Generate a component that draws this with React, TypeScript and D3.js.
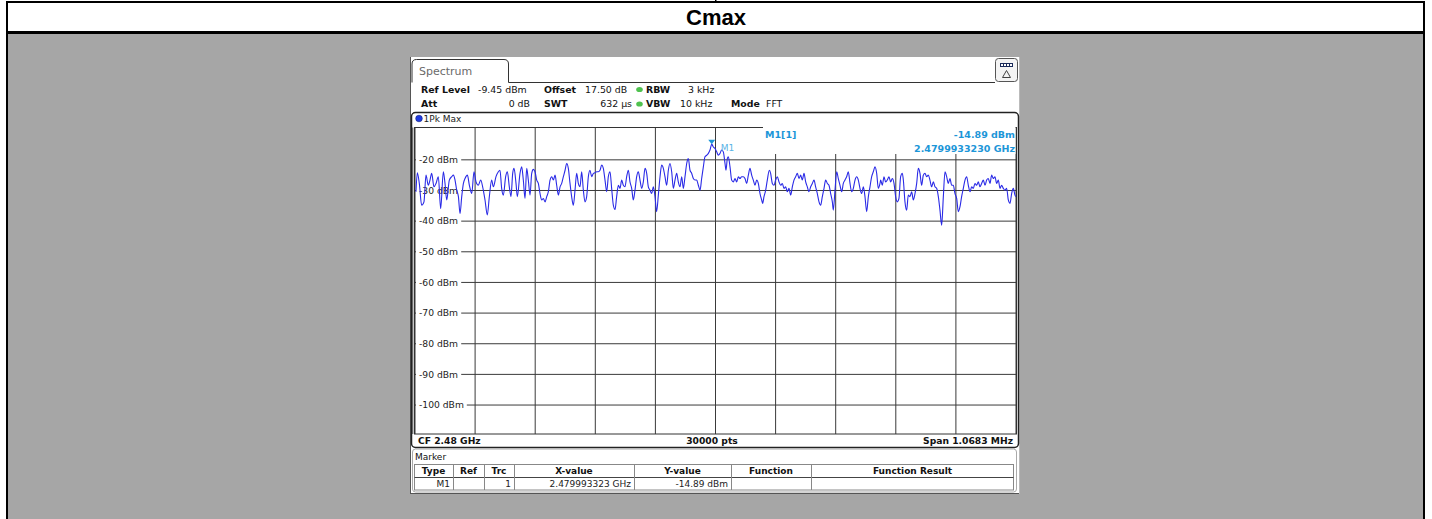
import React from "react";
import * as d3 from "d3";

// ---------- data ----------
const titleText = "Cmax";
const centerFreqLabel = "CF 2.48 GHz";
const pointsLabel = "30000 pts";
const spanLabel = "Span 1.0683 MHz";
const spanKHz = 1068.3;
const refLevel = -9.45;
const dbPerDiv = 10;
const yTickValues = [-20, -30, -40, -50, -60, -70, -80, -90, -100];

const headerRow1 = ["Ref Level", "-9.45 dBm", "Offset", "17.50 dB", "RBW", "3 kHz"];
const headerRow2 = ["Att", "0 dB", "SWT", "632 µs", "VBW", "10 kHz", "Mode", "FFT"];
const traceName = "1Pk Max";
const tabName = "Spectrum";

const markerName = "M1";
const markerInfoName = "M1[1]";
const markerFreqKHz = -6.677;
const markerLevel = -14.89;
const markerLevelText = "-14.89 dBm";
const markerFreqText = "2.4799933230 GHz";

const tableHeaders = ["Type", "Ref", "Trc", "X-value", "Y-value", "Function", "Function Result"];
const tableRow = ["M1", "", "1", "2.479993323 GHz", "-14.89 dBm", "", ""];

// trace: frequency offset from CF (kHz) and level (dBm)
const traceFreqKHz = [
  -532.4, -530.0, -526.5, -522.3, -518.2, -514.6, -510.5, -507.5, -504.5, -500.4,
  -496.8, -492.7, -488.5, -483.8, -480.8, -477.8, -473.1, -468.9, -465.9, -463.0,
  -460.0, -457.0, -454.1, -451.1, -448.1, -445.2, -441.0, -437.5, -433.3, -429.3,
  -425.7, -421.6, -417.4, -413.9, -409.7, -405.6, -402.0, -397.9, -394.9, -390.2,
  -386.0, -383.1, -380.1, -377.1, -373.0, -370.0, -366.5, -363.5, -360.5, -358.1,
  -354.6, -352.2, -347.5, -344.5, -341.6, -338.6, -335.6, -332.7, -329.7, -326.7,
  -323.8, -320.8, -317.8, -314.9, -311.9, -308.9, -306.0, -303.0, -300.0, -297.1,
  -294.1, -291.1, -288.2, -285.2, -282.3, -279.3, -276.3, -273.4, -270.4, -267.4,
  -264.5, -261.6, -258.6, -255.7, -252.7, -249.7, -246.8, -243.8, -240.8, -237.9,
  -234.9, -232.0, -229.0, -226.0, -223.1, -220.1, -217.1, -214.2, -211.2, -208.3,
  -205.3, -202.3, -199.4, -196.4, -193.4, -190.5, -187.5, -184.6, -181.6, -178.6,
  -175.7, -172.7, -169.7, -166.8, -163.8, -160.9, -157.9, -154.9, -152.0, -149.0,
  -146.1, -143.1, -140.1, -137.2, -134.2, -131.2, -128.3, -125.3, -122.3, -119.4,
  -116.4, -113.5, -110.5, -107.5, -104.6, -101.6, -98.6, -95.7, -92.7, -89.8,
  -86.8, -83.8, -80.9, -77.9, -74.9, -72.0, -69.0, -66.1, -63.1, -60.1,
  -57.2, -54.2, -51.2, -48.3, -45.3, -42.4, -39.4, -36.4, -33.5, -30.5,
  -27.5, -24.6, -21.6, -18.7, -15.7, -12.7, -9.8, -6.677, -3.8, -0.9,
  2.1, 5.05, 7.99, 10.95, 13.9, 16.9, 18.7, 21.0, 22.8, 25.8,
  28.7, 31.7, 34.7, 37.6, 40.6, 43.5, 46.5, 49.5, 52.4, 55.4,
  58.4, 61.3, 64.3, 67.2, 70.2, 73.2, 76.1, 79.1, 82.1, 83.8,
  86.2, 89.2, 92.1, 95.7, 98.0, 101.0, 104.0, 106.9, 109.9, 112.9,
  115.8, 118.8, 121.7, 124.7, 127.7, 130.6, 133.6, 136.6, 139.5, 142.5,
  145.5, 148.4, 151.4, 154.3, 157.3, 160.3, 163.2, 166.2, 169.2, 172.1,
  175.1, 178.0, 181.0, 184.0, 186.9, 189.9, 192.9, 195.8, 198.8, 201.7,
  204.7, 207.7, 209.4, 212.4, 215.4, 218.3, 221.3, 224.3, 227.2, 230.2,
  233.1, 236.1, 239.1, 242.0, 245.0, 248.0, 250.9, 253.9, 256.8, 259.8,
  262.8, 265.7, 268.7, 271.7, 274.6, 277.6, 280.5, 283.5, 286.5, 289.4,
  292.4, 293.6, 296.5, 299.5, 302.4, 305.4, 308.4, 311.3, 314.3, 317.3,
  320.2, 323.2, 326.1, 329.1, 332.1, 333.9, 336.8, 339.8, 342.7, 345.7,
  348.7, 351.6, 354.6, 357.6, 360.5, 363.5, 366.4, 369.4, 372.4, 375.3,
  378.3, 381.2, 384.2, 387.2, 390.1, 393.1, 396.1, 399.0, 402.0, 405.0,
  407.9, 410.9, 413.8, 416.8, 419.8, 422.7, 425.7, 428.7, 431.6, 434.6,
  437.5, 440.5, 443.5, 446.4, 449.4, 452.4, 455.3, 458.3, 461.2, 464.2,
  467.2, 470.1, 473.1, 476.1, 479.0, 482.0, 484.9, 487.9, 490.9, 493.8,
  496.8, 499.8, 502.7, 505.7, 508.6, 511.6, 514.6, 517.5, 520.5, 523.5,
  526.4, 529.4, 532.3, 534.1,
];
const traceLevelDbm = [
  -30.4, -24.2, -27.7, -34.8, -33.7, -25.0, -28.3, -26.6, -24.4, -28.8,
  -27.7, -25.5, -35.9, -23.9, -27.7, -33.1, -26.6, -25.5, -25.0, -26.6,
  -29.9, -32.0, -37.5, -32.0, -27.7, -26.1, -25.0, -28.3, -31.0, -23.9,
  -27.2, -28.3, -26.6, -28.8, -33.1, -38.0, -32.0, -26.6, -28.8, -25.5,
  -23.9, -23.4, -29.3, -31.5, -25.5, -23.9, -28.8, -32.0, -24.4, -22.8,
  -27.7, -32.0, -24.4, -22.3, -26.6, -32.6, -22.8, -26.6, -31.5, -24.4,
  -23.1, -23.9, -26.6, -27.7, -31.0, -33.1, -32.6, -33.7, -32.0, -30.4,
  -26.6, -25.5, -26.6, -25.0, -28.3, -31.5, -28.8, -27.7, -25.5, -23.4,
  -21.2, -22.8, -27.7, -32.0, -34.8, -29.9, -24.4, -27.7, -28.8, -23.9,
  -29.9, -33.7, -32.0, -25.5, -23.4, -25.5, -24.4, -24.2, -23.9, -23.9,
  -23.4, -21.7, -22.8, -26.6, -30.4, -25.5, -23.9, -29.3, -34.8, -36.2,
  -32.0, -28.3, -29.3, -26.6, -28.3, -28.8, -25.5, -23.4, -27.2, -29.3,
  -33.1, -29.9, -25.5, -23.9, -26.6, -29.3, -27.2, -22.8, -24.4, -28.8,
  -29.9, -31.0, -28.8, -32.0, -36.9, -31.5, -25.5, -21.7, -22.8, -25.5,
  -28.3, -23.4, -21.2, -23.9, -29.3, -26.6, -24.4, -27.2, -28.8, -25.5,
  -29.3, -25.5, -21.2, -19.6, -23.4, -24.4, -26.1, -26.6, -26.6, -28.3,
  -29.9, -26.1, -22.3, -19.0, -18.5, -17.9, -16.8, -14.89, -15.8, -16.3,
  -17.4, -18.5, -17.9, -16.8, -17.4, -21.2, -23.4, -19.6, -19.0, -22.3,
  -26.6, -27.2, -26.1, -27.2, -25.5, -26.1, -25.5, -25.5, -26.1, -27.7,
  -25.0, -22.8, -25.0, -26.6, -28.3, -26.6, -27.7, -31.0, -33.1, -34.2,
  -32.0, -29.9, -26.6, -23.4, -24.4, -27.7, -28.3, -26.6, -25.5, -27.2,
  -28.3, -27.7, -29.3, -28.8, -30.4, -29.3, -31.5, -28.8, -26.6, -25.5,
  -24.4, -26.1, -25.0, -26.6, -24.4, -27.2, -28.8, -30.4, -28.8, -27.7,
  -26.6, -28.8, -31.0, -33.7, -34.8, -32.0, -29.3, -26.6, -27.7, -28.3,
  -31.0, -33.7, -36.4, -29.9, -23.9, -26.1, -28.3, -30.4, -27.7, -26.6,
  -25.5, -23.9, -27.7, -30.4, -29.3, -26.6, -25.5, -26.6, -29.3, -31.0,
  -28.8, -32.0, -36.9, -32.0, -28.8, -25.5, -23.9, -22.3, -24.4, -29.3,
  -27.7, -26.6, -28.3, -25.5, -27.2, -26.6, -25.5, -27.2, -26.1, -27.7,
  -32.0, -33.7, -32.6, -25.5, -24.4, -26.6, -33.7, -36.4, -31.5, -32.0,
  -30.4, -33.1, -31.0, -27.7, -22.8, -24.4, -28.3, -25.0, -24.4, -25.5,
  -25.0, -26.6, -28.8, -27.2, -28.8, -29.3, -32.0, -36.4, -41.3, -32.0,
  -23.9, -25.5, -27.7, -26.1, -28.3, -28.3, -31.0, -32.6, -36.9, -35.3,
  -32.0, -29.3, -26.6, -25.5, -28.3, -30.4, -28.8, -29.3, -27.7, -28.3,
  -27.2, -28.8, -27.7, -26.6, -28.3, -26.6, -26.1, -27.7, -25.0, -26.1,
  -25.5, -27.7, -26.6, -29.3, -28.3, -29.3, -29.9, -29.3, -33.1, -34.2,
  -31.0, -29.3, -31.5, -32.0,
];

// ---------- styles ----------
const RS_FONT = "'DejaVu Sans', Verdana, sans-serif";
const MARKER_BLUE = "#1c96d8";
const TRACE_BLUE = "#2a2ae6";

export default function App() {
  const pl = 415, pr = 1016, pt = 127.5, pb = 434;
  const x = d3.scaleLinear().domain([-spanKHz / 2, spanKHz / 2]).range([pl, pr]);
  const y = d3.scaleLinear().domain([refLevel - 10 * dbPerDiv, refLevel]).range([pb, pt]);
  const data = traceFreqKHz.map((f, i) => [f, traceLevelDbm[i]] as [number, number]);
  const line = d3.line<[number, number]>().x((d) => x(d[0])).y((d) => y(d[1])).curve(d3.curveMonotoneX);
  const vGrid = d3.range(0, 11).map((i) => -spanKHz / 2 + (i * spanKHz) / 10);

  const mx = x(markerFreqKHz), my = y(markerLevel);

  const row1X = [421, 478, 544, 585, 646, 688];
  const row1Bold = [true, false, true, false, true, false];
  const row2X = [421, 530, 544, 632, 646, 680, 731, 766];
  const row2Anchor = ["start", "end", "start", "end", "start", "start", "start", "start"];
  const row2Bold = [true, false, true, false, true, false, true, false];

  const colEdges = [414, 453, 484, 514, 634, 731, 811, 1014];

  return (
    <svg width={1432} height={519} style={{ position: "absolute", left: 0, top: 0 }}>
      {/* page frame */}
      <rect x={0} y={0} width={1432} height={519} fill="#ffffff" />
      <rect x={8} y={34} width={1415} height={485} fill="#a6a6a6" />
      <rect x={6} y={1} width={1419} height={2} fill="#000" />
      <rect x={715} y={0} width={1.5} height={2} fill="#000" />
      <rect x={6} y={1} width={2} height={518} fill="#000" />
      <rect x={1423} y={1} width={2} height={518} fill="#000" />
      <rect x={6} y={31} width={1419} height={3} fill="#000" />
      <text x={716} y={25} textAnchor="middle" fontFamily="'Liberation Sans', Arial, sans-serif" fontWeight="bold" fontSize={22}>
        {titleText}
      </text>

      {/* screenshot */}
      <rect x={410} y={57} width={610} height={437} fill="#ffffff" />
      <line x1={410.5} y1={57} x2={410.5} y2={494} stroke="#555" />
      <line x1={410} y1={493.5} x2={1020} y2={493.5} stroke="#555" />
      <line x1={1019.5} y1={57} x2={1019.5} y2={494} stroke="#bbb" />

      {/* tab */}
      <path d="M412,82.5 L412,64 Q412,59.5 416.5,59.5 L504,59.5 Q508.5,59.5 508.5,64 L508.5,82.5 L995,82.5" fill="none" stroke="#333" strokeWidth={1} />
      <text x={419} y={75} fontFamily={RS_FONT} fontSize={11} fill="#6a6a6a">{tabName}</text>

      {/* icon */}
      <rect x={995.5} y={58.5} width={22} height={23} rx={3} fill="#f4f4f4" stroke="#555" />
      <rect x={1000} y={63} width={13} height={4} fill="#1a2a5a" />
      {[0, 1, 2, 3].map((i) => (
        <rect key={i} x={1001 + i * 3} y={64} width={2} height={2} fill="#ffffff" />
      ))}
      <path d="M1006.5,70.5 L1010.5,77.5 L1002.5,77.5 Z" fill="none" stroke="#444" />

      {/* header info */}
      {headerRow1.map((t, i) => (
        <text key={"r1" + i} x={row1X[i]} y={92.5} fontFamily={RS_FONT} fontSize={9.4} fontWeight={row1Bold[i] ? "bold" : "normal"} fill="#111">{t}</text>
      ))}
      {headerRow2.map((t, i) => (
        <text key={"r2" + i} x={row2X[i]} y={107} textAnchor={row2Anchor[i] as any} fontFamily={RS_FONT} fontSize={9.4} fontWeight={row2Bold[i] ? "bold" : "normal"} fill="#111">{t}</text>
      ))}
      <ellipse cx={639.5} cy={89.5} rx={3.3} ry={2.6} fill="#4fc24f" />
      <ellipse cx={639.5} cy={104} rx={3.3} ry={2.6} fill="#4fc24f" />

      {/* trace window box */}
      <rect x={411.5} y={112.5} width={607} height={335} rx={4} fill="none" stroke="#222" strokeWidth={1.5} />
      <circle cx={419} cy={118.5} r={3.3} fill="#1f3ae0" stroke="#102080" strokeWidth={0.6} />
      <text x={423.5} y={121.5} fontFamily={RS_FONT} fontSize={9} fill="#222">{traceName}</text>

      {/* grid */}
      {vGrid.map((f, i) => (
        <line key={"v" + i} x1={x(f)} x2={x(f)} y1={pt} y2={pb} stroke="#3a3a3a" strokeWidth={1} />
      ))}
      {yTickValues.map((v) => (
        <line key={"h" + v} x1={pl} x2={pr} y1={y(v)} y2={y(v)} stroke="#3a3a3a" strokeWidth={1} />
      ))}
      <rect x={pl - 0.5} y={pt} width={pr - pl + 1} height={pb - pt} fill="none" stroke="#333" strokeWidth={1} />
      <line x1={412.8} x2={412.8} y1={pt} y2={pb} stroke="#444" />

      {/* y labels */}
      {yTickValues.map((v) => {
        const label = `${v} dBm`;
        const w = 4 + label.length * 5.6 + 2;
        return (
          <g key={"l" + v}>
            <rect x={416} y={y(v) - 5} width={w} height={10} fill="#ffffff" />
            <text x={419} y={y(v) + 3.3} fontFamily={RS_FONT} fontSize={9.2} fill="#222">{label}</text>
          </g>
        );
      })}

      {/* trace */}
      <path d={line(data) || ""} fill="none" stroke={TRACE_BLUE} strokeWidth={1.1} strokeLinejoin="round" />

      {/* marker info box */}
      <rect x={763} y={pt - 0.5} width={pr - 763 - 0.5} height={27} fill="#ffffff" />
      <text x={765} y={138} fontFamily={RS_FONT} fontSize={9.5} fontWeight="bold" fill={MARKER_BLUE}>{markerInfoName}</text>
      <text x={1015} y={138} textAnchor="end" fontFamily={RS_FONT} fontSize={9.5} fontWeight="bold" fill={MARKER_BLUE}>{markerLevelText}</text>
      <text x={1015} y={151.5} textAnchor="end" fontFamily={RS_FONT} fontSize={9.5} fontWeight="bold" fill={MARKER_BLUE}>{markerFreqText}</text>

      {/* marker */}
      <path d={`M${mx - 3.5},${my - 4.5} L${mx + 3.5},${my - 4.5} L${mx},${my} Z`} fill={MARKER_BLUE} />
      <text x={mx + 9} y={my + 7} fontFamily={RS_FONT} fontSize={9} fill="#5ab4e6">{markerName}</text>

      {/* bottom row */}
      <text x={418} y={443.5} fontFamily={RS_FONT} fontSize={9.2} fontWeight="bold" fill="#111">{centerFreqLabel}</text>
      <text x={712} y={443.5} textAnchor="middle" fontFamily={RS_FONT} fontSize={9.2} fontWeight="bold" fill="#111">{pointsLabel}</text>
      <text x={1013} y={443.5} textAnchor="end" fontFamily={RS_FONT} fontSize={9.2} fontWeight="bold" fill="#111">{spanLabel}</text>

      {/* marker table */}
      <rect x={412.5} y={449} width={604} height={43} rx={3} fill="none" stroke="#aaa" />
      <text x={415} y={460} fontFamily={RS_FONT} fontSize={9} fill="#111">Marker</text>
      <rect x={414.5} y={464.5} width={599} height={25.5} fill="#ffffff" stroke="#888" />
      <line x1={414.5} x2={1013.5} y1={477.5} y2={477.5} stroke="#444" />
      {colEdges.slice(1, -1).map((cx, i) => (
        <line key={"c" + i} x1={cx + 0.5} x2={cx + 0.5} y1={465} y2={490} stroke="#888" />
      ))}
      {tableHeaders.map((h, i) => (
        <text key={"th" + i} x={(colEdges[i] + colEdges[i + 1]) / 2} y={474} textAnchor="middle" fontFamily={RS_FONT} fontSize={9} fontWeight="bold" fill="#111">{h}</text>
      ))}
      {tableRow.map((c, i) => (
        <text key={"td" + i} x={colEdges[i + 1] - 3} y={487} textAnchor="end" fontFamily={RS_FONT} fontSize={9} fill="#222">{c}</text>
      ))}
    </svg>
  );
}
